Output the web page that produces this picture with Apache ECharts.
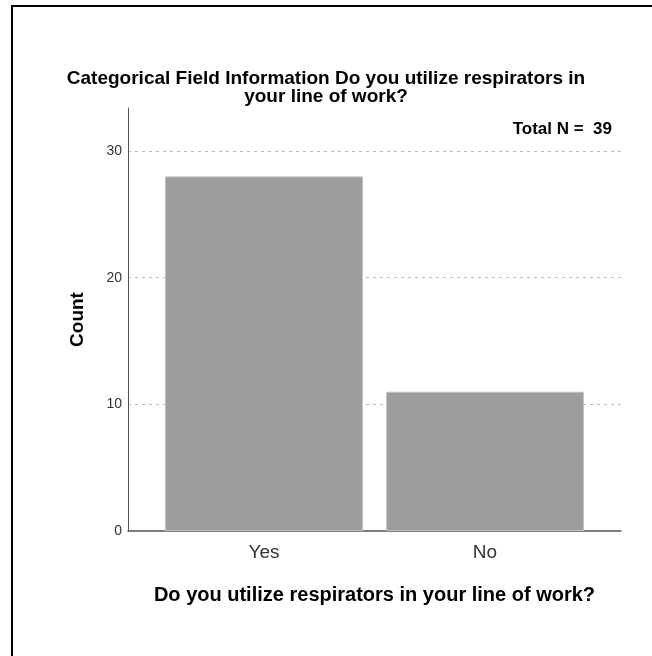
<!DOCTYPE html>
<html>
<head>
<meta charset="utf-8">
<script src="https://cdn.jsdelivr.net/npm/echarts@6/dist/echarts.min.js"></script>
<style>
  html, body { margin: 0; padding: 0; background: #fff; }
  #wrap { width: 652px; height: 656px; position: relative; overflow: hidden; }
  #main { width: 652px; height: 656px; }
  .frame {
    position: absolute; left: 11px; top: 5px; width: 700px; height: 700px;
    border-top: 2px solid #000; border-left: 2px solid #000;
    pointer-events: none; z-index: 10;
  }
</style>
</head>
<body>
<div id="wrap">
  <div id="main"></div>
  <div class="frame"></div>
</div>
<script>
const categories = ['Yes', 'No'];
const counts = [28, 11];
const yTicks = [0, 10, 20, 30];
const yMax = 33.4;
const totalLabel = 'Total N =  39';
const titleText = 'Categorical Field Information Do you utilize respirators in\nyour line of work?';
const xTitle = 'Do you utilize respirators in your line of work?';
const yTitle = 'Count';

const font = '"Liberation Sans", Arial, sans-serif';
const chart = echarts.init(document.getElementById('main'), null, { renderer: 'canvas' });

chart.setOption({
  backgroundColor: '#fff',
  animation: false,
  title: {
    text: titleText,
    left: 'center',
    top: 65,
    textStyle: { fontFamily: font, fontSize: 19, fontWeight: 'bold', color: '#000', lineHeight: 18 }
  },
  graphic: [{
    type: 'text',
    right: 40,
    top: 121,
    style: {
      text: totalLabel,
      font: 'bold 17px "Liberation Sans Narrow", "Liberation Sans", Arial, sans-serif',
      fill: '#000'
    }
  }],
  grid: [
    { left: 128, top: 108, width: 493, height: 423 },
    { left: 153.5, top: 108, width: 442, height: 423 }
  ],
  xAxis: [{
    gridIndex: 0,
    type: 'value',
    min: 0, max: 1,
    axisLine: { show: true, lineStyle: { color: '#555', width: 1.5 } },
    axisTick: { show: false },
    axisLabel: { show: false },
    splitLine: { show: false },
    name: xTitle,
    nameLocation: 'middle',
    nameGap: 54,
    nameTextStyle: { fontFamily: font, fontSize: 20, fontWeight: 'bold', color: '#000' }
  }, {
    gridIndex: 1,
    type: 'category',
    data: categories,
    axisLine: { show: false },
    axisTick: { show: false },
    axisLabel: { fontFamily: font, fontSize: 19, color: '#333', margin: 12 }
  }],
  yAxis: [{
    gridIndex: 0,
    type: 'value',
    min: yTicks[0],
    max: yMax,
    interval: yTicks[1] - yTicks[0],
    axisLine: { show: true, lineStyle: { color: '#555', width: 1 } },
    axisTick: { show: false },
    axisLabel: {
      fontFamily: font, fontSize: 14, color: '#333', margin: 6,
      showMaxLabel: false,
      formatter: v => (yTicks.indexOf(v) >= 0 ? String(v) : '')
    },
    splitLine: { show: true, showMaxLine: false, showMinLine: false, lineStyle: { color: '#bbb', type: [3, 4], width: 1 } },
    name: yTitle,
    nameLocation: 'middle',
    nameGap: 41,
    nameTextStyle: { fontFamily: font, fontSize: 19, fontWeight: 'bold', color: '#000' }
  }, {
    gridIndex: 1,
    type: 'value',
    min: yTicks[0],
    max: yMax,
    show: false
  }],
  series: [{
    type: 'bar',
    xAxisIndex: 1,
    yAxisIndex: 1,
    data: counts,
    barWidth: 198,
    itemStyle: { color: '#9d9d9d', borderColor: '#c4c4c4', borderWidth: 1 }
  }]
});
</script>
</body>
</html>
